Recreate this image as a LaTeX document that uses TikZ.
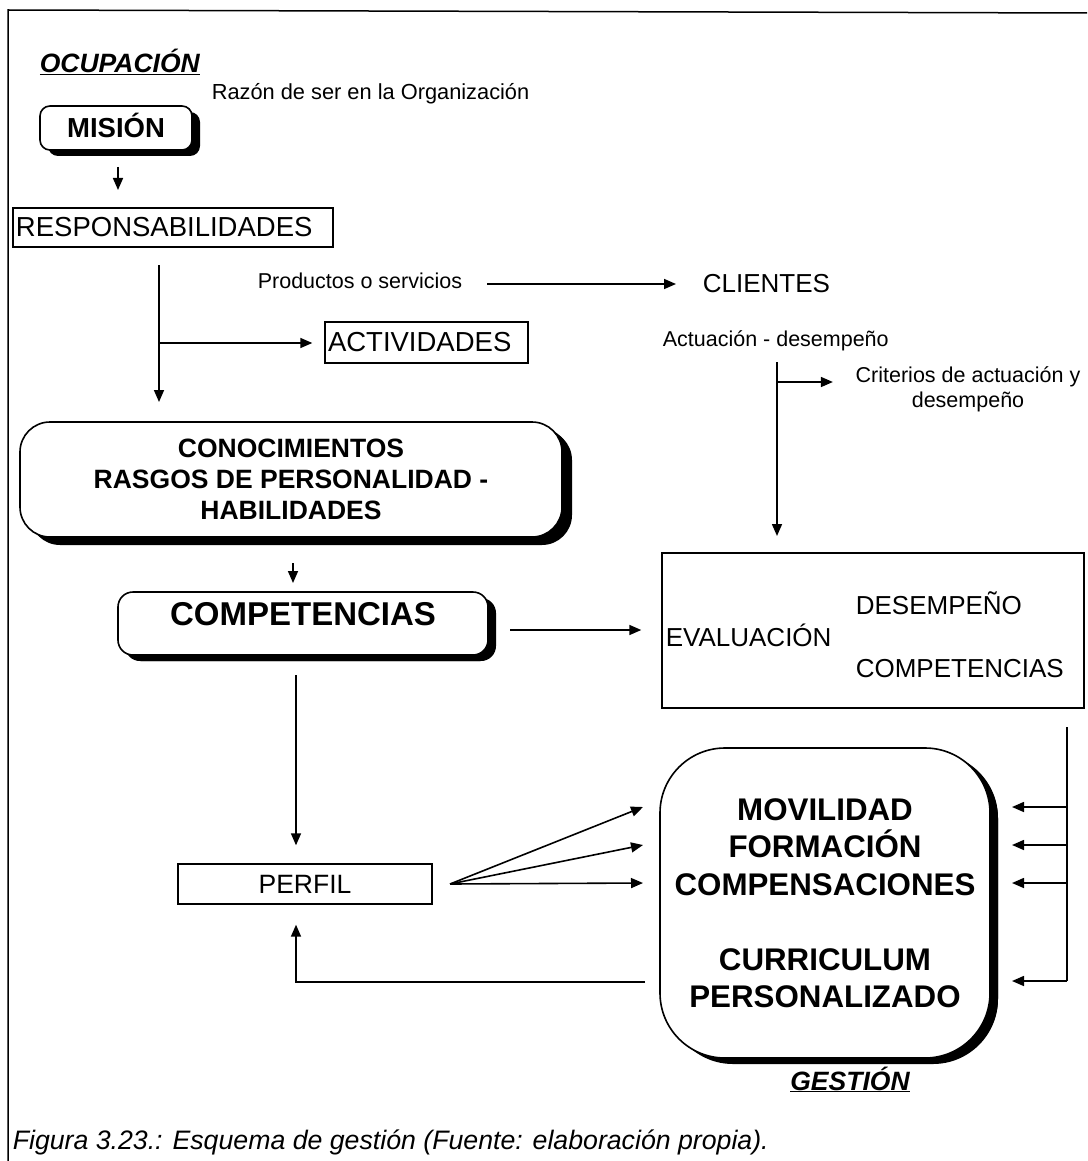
\documentclass[tikz,border=0pt]{standalone}
\usepackage{fontspec}
\setmainfont{Liberation Sans}
\usetikzlibrary{arrows.meta,shadows}
\newcommand\FsSm{\fontsize{21.5pt}{25pt}\selectfont}
\newcommand\FsReg{\fontsize{26pt}{31pt}\selectfont}
\newcommand\FsLeft{\fontsize{27.5pt}{31pt}\selectfont}
\newcommand\FsMid{\fontsize{26.5pt}{31pt}\selectfont}
\newcommand\FsBig{\fontsize{31.3pt}{37.5pt}\selectfont}
\begin{document}
\begin{tikzpicture}[x=1pt,y=-1pt,line width=1.6pt,
  arr/.style={-{Triangle[length=12pt,width=10pt]}},
  plainbox/.style={draw,line width=1.4pt,inner sep=0pt},
  shbox/.style={draw,line width=1.6pt,fill=white,inner sep=0pt,
     drop shadow={shadow xshift=8pt,shadow yshift=-6pt,fill=black,opacity=1}},
  lbl/.style={inner sep=0pt,anchor=base west}]
\useasboundingbox (0,0) rectangle (1087,1161);
% frame
\draw[line width=1.5pt] (1087,13) -- (8,10) -- (8,1161);
% top
\node[lbl,font=\FsMid\bfseries\itshape] (ocup) at (39,73) {\underline{OCUPACIÓN}};
\node[lbl,font=\fontsize{21.8pt}{25pt}\selectfont] (razon) at (211,100) {Razón de ser en la Organización};
\node[shbox,rounded corners=10pt,minimum width=152pt,minimum height=44pt,text depth=6pt,font=\fontsize{27.5pt}{31pt}\selectfont\bfseries] (mision) at (116,128) {MISIÓN};
\coordinate (m1) at (118,167);
\coordinate (m2) at (118,190);
\draw[arr] (m1) -- (m2);
\node[plainbox,text width=314pt,align=left,inner xsep=3pt,minimum height=39pt,font=\FsLeft] (resp) at (173,227.5) {RESPONSABILIDADES};
% left trunk
\coordinate (r1) at (159,265);
\coordinate (r2) at (159,402);
\coordinate (rb) at (159,343);
\draw[arr] (r1) -- (r2);
\node[plainbox,text width=197pt,align=left,inner xsep=3pt,minimum height=41pt,font=\FsLeft] (activ) at (426.5,342.5) {ACTIVIDADES};
\draw[arr] (rb) -- ([xshift=-12pt]activ.west |- rb);
% products / clients
\node[lbl,font=\FsSm] (prod) at (257,288) {Productos o servicios};
\node[lbl,font=\FsReg] (clientes) at (702,292) {CLIENTES};
\coordinate (p1) at (487,284);
\draw[arr] (p1) -- ([xshift=-26pt]clientes.west |- p1);
\node[lbl,font=\FsSm] (actua) at (662,346) {Actuación - desempeño};
\coordinate (a1) at (777,362);
\coordinate (a2) at (777,536);
\coordinate (ab) at (777,382);
\draw[arr] (a1) -- (a2);
\node[inner sep=0pt,align=center,font=\FsSm] (crit) at (968,389) {Criterios de actuación y\\desempeño};
\draw[arr] (ab) -- ([xshift=-22pt]crit.west |- ab);
% knowledge box
\node[shbox,rounded corners=30pt,minimum width=542pt,minimum height=115pt,align=center,font=\FsMid\bfseries,
  drop shadow={shadow xshift=10pt,shadow yshift=-8pt,fill=black,opacity=1}] (conoc) at (291,479.5)
  {CONOCIMIENTOS\\RASGOS DE PERSONALIDAD -\\HABILIDADES};
\coordinate (c1) at (293,563);
\coordinate (c2) at (293,583);
\draw[arr] (c1) -- (c2);
\node[shbox,rounded corners=15pt,minimum width=370pt,minimum height=63pt,text depth=20pt,font=\fontsize{33pt}{38pt}\selectfont\bfseries,
  drop shadow={shadow xshift=7pt,shadow yshift=-6pt,fill=black,opacity=1}] (compet) at (303,623.5) {COMPETENCIAS};
% evaluation
\node[plainbox,minimum width=422pt,minimum height=155pt] (eval) at (873,630.5) {};
\node[lbl,font=\FsReg] (evl) at (665,646) {EVALUACIÓN};
\node[lbl,font=\FsReg] (desem) at (855,614) {DESEMPEÑO};
\node[lbl,font=\FsReg] (compl) at (855,677) {COMPETENCIAS};
\coordinate (e1) at (510,630);
\draw[arr] (e1) -- ([xshift=-20pt]eval.west |- e1);
% profile
\coordinate (k1) at (296,675);
\node[plainbox,minimum width=254pt,minimum height=40pt,font=\fontsize{26.5pt}{30pt}\selectfont] (perfil) at (305,884) {PERFIL};
\draw[arr] (k1) -- ([yshift=18pt]perfil.north -| k1);
% management
\node[shbox,rounded corners=65pt,minimum width=330pt,minimum height=310pt,align=center,font=\FsBig\bfseries,
  drop shadow={shadow xshift=8pt,shadow yshift=-5pt,fill=black,opacity=1}] (gest) at (825,903)
  {MOVILIDAD\\FORMACIÓN\\COMPENSACIONES\\[37.5pt]CURRICULUM\\PERSONALIZADO};
\node[inner sep=0pt,anchor=base,font=\FsMid\bfseries\itshape] (gestl) at (850,1090) {\underline{GESTIÓN}};
% fan from profile
\coordinate (f0) at (450,884);
\coordinate (f1) at (643,807);
\coordinate (f2) at (643,845);
\coordinate (f3) at (643,883);
\draw[arr] (f0) -- (f1);
\draw[arr] (f0) -- (f2);
\draw[arr] (f0) -- (f3);
% feedback right
\coordinate (v1) at (1067,727);
\coordinate (v2) at (1067,981);
\draw (v1) -- (v2);
\foreach \yy/\nm in {807/g1,845/g2,883/g3,981/g4}{
  \coordinate (\nm) at (1012,\yy);
  \draw[arr] (1067,\yy) -- (\nm);
}
% return to profile
\coordinate (b1) at (645,982);
\coordinate (b2) at (296,982);
\draw[arr] (b1) -- (b2) -- ([yshift=-20pt]perfil.south -| b2);
% caption
\node[lbl,font=\fontsize{26.7pt}{31pt}\selectfont\itshape] (cap) at (12,1149) {Figura 3.23.: Esquema de gestión (Fuente: elaboración propia).};
\end{tikzpicture}
\end{document}
